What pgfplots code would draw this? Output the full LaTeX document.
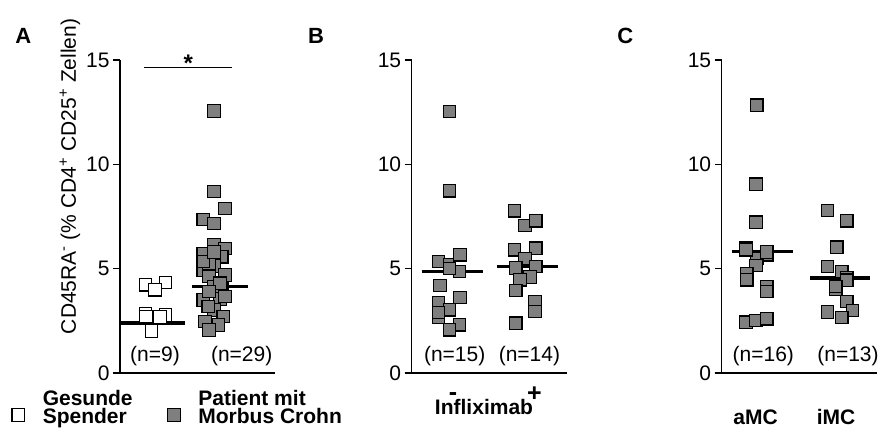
\documentclass[border=0pt]{standalone}
\usepackage{fontspec}
\setmainfont{Liberation Sans}
\usepackage{pgfplots}
\pgfplotsset{compat=1.18}
\definecolor{boxgray}{HTML}{7F7F7F}
\pgfplotsset{
  panel/.style={
    width=155pt, height=313pt, scale only axis,
    anchor=south west,
    xmin=0, xmax=155, ymin=0, ymax=15,
    axis x line=bottom, axis y line=left,
    axis line style={-, line width=1.2pt},
    x axis line style={shorten <=-7pt},
    xtick=\empty, ytick={0,5,10,15},
    tick align=outside, major tick length=7pt,
    tick style={line width=1.2pt, black},
    clip=false,
    /pgf/number format/assume math mode=true,
    yticklabel style={font=\fontsize{21}{21}\selectfont},
    font=\fontsize{21}{18}\selectfont,
  },
  gmark/.style={only marks, mark=square*, mark size=6.2pt,
    mark options={fill=boxgray, draw=black, line width=1.2pt}},
  wmark/.style={only marks, mark=square*, mark size=6.2pt,
    mark options={fill=white, draw=black, line width=1.2pt}},
  meanline/.style={line width=3.6pt, black, forget plot, no marks},
}
\begin{document}
\begin{tikzpicture}[x=1pt,y=1pt]
\useasboundingbox (0pt,0pt) rectangle (884pt,434pt);
% ---------------- Panel A ----------------
\begin{axis}[panel, at={(120pt,61pt)},
  ylabel={CD45RA\textsuperscript{-} (\% CD4\textsuperscript{+} CD25\textsuperscript{+} Zellen)},
  ylabel style={at={(axis description cs:-0.323,0.628)}, anchor=center, font=\fontsize{21}{21}\selectfont},
  legend columns=2,
  legend style={draw=none, fill=none, inner sep=0pt, outer sep=0pt,
    at={(axis description cs:-0.697,-0.054)}, anchor=north west,
    font=\bfseries\fontsize{21}{18}\selectfont,
    nodes={inner sep=0pt, align=left},
    /tikz/every odd column/.append style={column sep=18pt},
    /tikz/every even column/.append style={column sep=35pt}},
  legend cell align=left,
  legend image code/.code={\draw[#1, mark size=6.4pt, mark repeat=2, mark phase=2] plot coordinates {(0pt,-8pt)(6.5pt,-8pt)(13pt,-8pt)};},
]
\addplot[wmark] coordinates {
(25.7,4.23)(45.7,4.34)(35,3.99)(25.5,2.85)(31,2.65)(26,2.7)(45.5,2.78)(40,2.68)(31.5,2.01)};
\addlegendentry{Gesunde\\Spender}
\addplot[gmark] coordinates {
(94,12.56)(94,8.69)(105,7.89)(83.3,7.36)(94,7.17)(94,6.13)(105,5.97)(83.3,5.70)
(101.7,5.57)(83.3,4.94)(94,5.13)(89,5.26)(89,4.62)(105,4.70)(94,4.14)(101.7,4.06)
(83.3,3.50)(100,3.55)(105,3.66)(94,3.02)(88.3,3.18)(103.3,2.70)(85,2.46)(98.3,2.30)
(89,2.06)(83.3,5.35)(100,4.3)(89,3.9)(94,5.8)};
\addlegendentry{Patient mit\\Morbus Crohn}
\addplot[meanline] coordinates {(1,2.39)(65,2.39)};
\addplot[meanline] coordinates {(71.7,4.15)(128.3,4.15)};
\addplot[line width=1.2pt, black, forget plot, no marks] coordinates {(24,14.63)(111.7,14.63)};
\node[anchor=base, font=\bfseries\fontsize{24}{24}\selectfont] at (axis cs:68.3,14.45) {*};
\node[anchor=base] at (axis cs:35,0.53) {(n=9)};
\node[anchor=base] at (axis cs:121.7,0.53) {(n=29)};
\node[anchor=base west, inner sep=0pt, font=\bfseries\fontsize{22}{22}\selectfont] at (axis description cs:-0.677,1.054) {A};
\end{axis}
% ---------------- Panel B ----------------
\begin{axis}[panel, at={(411.7pt,61pt)}]
\addplot[gmark] coordinates {
(37.7,12.53)(37.7,8.73)(26.7,5.35)(37.7,5.19)(48.3,5.66)(47.7,4.87)(28.3,4.20)
(48.3,3.62)(26.7,3.35)(37.7,3.03)(26.7,2.68)(47.7,2.31)(37.7,2.07)(37.7,5.0)(26.7,2.9)};
\addplot[gmark] coordinates {
(102.7,7.77)(113.3,7.07)(124,7.29)(102.7,5.90)(124,5.98)(113.3,5.47)(104,5.03)
(124,5.11)(118.3,4.60)(108.3,4.47)(104,3.96)(123.3,3.43)(123.3,2.95)(104,2.39)};
\addplot[meanline] coordinates {(10,4.87)(71,4.87)};
\addplot[meanline] coordinates {(85,5.11)(146.7,5.11)};
\node[anchor=base] at (axis cs:43,0.53) {(n=15)};
\node[anchor=base] at (axis cs:117.7,0.53) {(n=14)};
\node[anchor=base, inner sep=0pt, font=\bfseries\fontsize{25}{25}\selectfont] at (axis cs:41.3,-1.33) {-};
\node[anchor=base, inner sep=0pt, font=\bfseries\fontsize{25}{25}\selectfont] at (axis cs:122.6,-1.37) {+};
\node[anchor=base, inner sep=0pt, font=\bfseries\fontsize{21}{21}\selectfont] at (axis cs:72.3,-2.01) {Infliximab};
\node[anchor=base west, inner sep=0pt, font=\bfseries\fontsize{22}{22}\selectfont] at (axis description cs:-0.669,1.054) {B};
\end{axis}
% ---------------- Panel C ----------------
\begin{axis}[panel, at={(721.7pt,61pt)}]
\addplot[gmark] coordinates {
(35,12.83)(34.3,9.05)(34.3,7.23)(24.3,5.98)(45,5.66)(35,5.5)(34.3,5.15)(25,4.76)
(25,4.47)(45,4.15)(45,3.91)(24.3,2.43)(34.3,2.52)(45,2.6)(45,5.8)(24.3,5.9)};
\addplot[gmark] coordinates {
(105.7,7.79)(125,7.29)(115,6.03)(105.7,5.11)(120,4.87)(125,4.55)(114,4.02)
(125,3.43)(105.7,2.92)(130.7,3.0)(120,2.66)(125,4.45)(114,4.15)};
\addplot[meanline] coordinates {(10,5.82)(71.6,5.82)};
\addplot[meanline] coordinates {(88.3,4.55)(148.3,4.55)};
\node[anchor=base] at (axis cs:41.6,0.53) {(n=16)};
\node[anchor=base] at (axis cs:126.3,0.53) {(n=13)};
\node[anchor=base, font=\bfseries\fontsize{21}{21}\selectfont] at (axis cs:33.8,-2.49) {aMC};
\node[anchor=base, font=\bfseries\fontsize{21}{21}\selectfont] at (axis cs:114.3,-2.49) {iMC};
\node[anchor=base west, inner sep=0pt, font=\bfseries\fontsize{22}{22}\selectfont] at (axis description cs:-0.675,1.054) {C};
\end{axis}
\end{tikzpicture}
\end{document}
